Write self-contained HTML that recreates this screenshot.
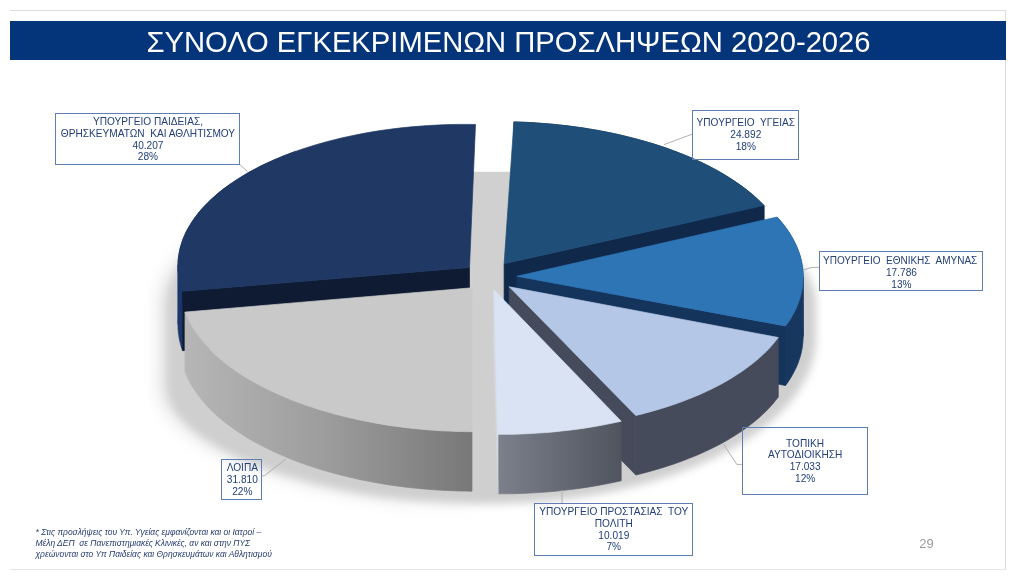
<!DOCTYPE html>
<html lang="el"><head><meta charset="utf-8"><title>ΣΥΝΟΛΟ ΕΓΚΕΚΡΙΜΕΝΩΝ ΠΡΟΣΛΗΨΕΩΝ 2020-2026</title>
<style>
html,body{margin:0;padding:0;background:#fff}
body{width:1013px;height:577px;position:relative;overflow:hidden;filter:blur(0.5px);font-family:"Liberation Sans",sans-serif}
#frame{position:absolute;left:10px;top:10px;width:995px;height:558px;border-top:1px solid #dcdcdc;border-right:1px solid #dcdcdc;border-bottom:1px solid #e4e4e4}
#title{position:absolute;left:10px;top:21px;width:996px;height:39px;background:#04347a;color:#fff;font-size:29.2px;line-height:39px;text-align:center;white-space:pre}
#title span{position:relative;left:0.5px;top:1.5px}
svg{position:absolute;left:0;top:0}
.lb{position:absolute;border:1px solid #5d7db3;box-sizing:border-box}
.lt{position:absolute;text-align:center;font-size:10.15px;line-height:12px;height:12px;color:#23407a;white-space:pre}
#fn{position:absolute;left:35.5px;top:527.2px;font-size:8.45px;line-height:10.9px;font-style:italic;color:#243b70;white-space:pre}
#pg{position:absolute;left:919.3px;top:537.3px;font-size:13px;line-height:14px;color:#9a9a9a}
</style></head><body>
<div id="frame"></div>
<div id="title"><span>ΣΥΝΟΛΟ ΕΓΚΕΚΡΙΜΕΝΩΝ ΠΡΟΣΛΗΨΕΩΝ 2020-2026</span></div>
<svg width="1013" height="577" viewBox="0 0 1013 577">
<defs>
<filter id="bl" x="-10%" y="-10%" width="120%" height="120%"><feGaussianBlur stdDeviation="4"/></filter>
<filter id="blL" x="-10%" y="-10%" width="120%" height="120%"><feGaussianBlur stdDeviation="9"/></filter>
<linearGradient id="gm" gradientUnits="userSpaceOnUse" x1="380" y1="0" x2="486" y2="0"><stop offset="0" stop-color="#fff"/><stop offset="1" stop-color="#000"/></linearGradient>
<mask id="mk" maskUnits="userSpaceOnUse" x="0" y="0" width="1013" height="577"><rect x="0" y="171.5" width="489" height="406" fill="url(#gm)"/></mask>
<clipPath id="cR"><rect x="0" y="171.5" width="1013" height="406"/></clipPath>
<linearGradient id="gL" gradientUnits="userSpaceOnUse" x1="185" y1="0" x2="472" y2="0"><stop offset="0" stop-color="#b6b6b6"/><stop offset="0.5" stop-color="#9c9c9c"/><stop offset="1" stop-color="#787878"/></linearGradient>
<linearGradient id="gP" gradientUnits="userSpaceOnUse" x1="498" y1="0" x2="622" y2="0"><stop offset="0" stop-color="#7b808a"/><stop offset="1" stop-color="#4f545e"/></linearGradient>
</defs>
<g clip-path="url(#cR)"><path d="M488 172A328 133 0 0 1 816 305L816 337A328 167 0 0 1 488 504C338 504 168 452 168 385L168 305A320 133 0 0 1 488 172Z" fill="#cfcfcf" filter="url(#bl)"/></g>
<g mask="url(#mk)" opacity="0.75"><path d="M488 172A328 133 0 0 1 816 305L816 337A328 167 0 0 1 488 504C330 504 161 450 161 385L161 305A327 133 0 0 1 488 172Z" fill="#cfcfcf" filter="url(#blL)"/></g>
<rect x="466" y="172" width="48" height="130" fill="#d0d0d0"/>
<path fill="#1b376a" stroke="#1b376a" stroke-width="0.7" d="M182.6 291.2L181.3 287.4L180.3 283.7L179.4 279.9L178.8 276.1L178.3 272.3L178 268.5L178 264.8L178 324.3L178 328L178.3 331.8L178.8 335.6L179.4 339.4L180.3 343.2L181.3 346.9L182.6 350.7Z"/>
<path fill="#1b376a" stroke="#1b376a" stroke-width="0.7" d="M178 264.8L178.1 261L178.5 257.2L179.1 253.4L179.8 249.6L180.8 245.9L182 242.1L183.3 238.4L184.9 234.7L186.6 231L188.6 227.4L190.8 223.8L193.1 220.2L195.7 216.6L198.4 213.1L201.3 209.6L204.4 206.2L207.7 202.8L211.2 199.4L214.9 196.1L218.7 192.8L222.7 189.6L226.9 186.5L231.3 183.4L235.8 180.4L240.5 177.4L245.3 174.5L250.3 171.6L255.4 168.9L260.7 166.1L266.2 163.5L271.8 160.9L277.5 158.5L283.4 156L289.4 153.7L295.5 151.4L295.5 210.9L289.4 213.2L283.4 215.5L277.5 218L271.8 220.4L266.2 223L260.7 225.6L255.4 228.4L250.3 231.1L245.3 234L240.5 236.9L235.8 239.9L231.3 242.9L226.9 246L222.7 249.1L218.7 252.3L214.9 255.6L211.2 258.9L207.7 262.3L204.4 265.7L201.3 269.1L198.4 272.6L195.7 276.1L193.1 279.7L190.8 283.3L188.6 286.9L186.6 290.5L184.9 294.2L183.3 297.9L182 301.6L180.8 305.4L179.8 309.1L179.1 312.9L178.5 316.7L178.1 320.5L178 324.3Z"/>
<path fill="#0f1a33" stroke="#0f1a33" stroke-width="0.7" d="M469.5 267.5L182.6 291.2L182.6 350.7L469.5 327Z"/>
<path fill="#1f3864" stroke="#1f3864" stroke-width="0.7" d="M469.5 267.5L182.6 291.2L181.3 287.4L180.3 283.7L179.4 279.9L178.8 276.1L178.3 272.3L178 268.5L178 264.8L178.1 261L178.5 257.2L179.1 253.4L179.8 249.6L180.8 245.9L182 242.1L183.3 238.4L184.9 234.7L186.6 231L188.6 227.4L190.8 223.8L193.1 220.2L195.7 216.6L198.4 213.1L201.3 209.6L204.4 206.2L207.7 202.8L211.2 199.4L214.9 196.1L218.7 192.8L222.7 189.6L226.9 186.5L231.3 183.4L235.8 180.4L240.5 177.4L245.3 174.5L250.3 171.6L255.4 168.9L260.7 166.1L266.2 163.5L271.8 160.9L277.5 158.5L283.4 156L289.4 153.7L295.5 151.4L301.7 149.3L308.1 147.2L314.5 145.2L321.1 143.3L327.8 141.4L334.6 139.7L341.4 138L348.4 136.5L355.4 135L362.6 133.6L369.8 132.3L377 131.1L384.4 130L391.8 129L399.2 128.1L406.7 127.3L414.2 126.6L421.8 126L429.4 125.5L437.1 125.1L444.7 124.7L452.4 124.5L460.1 124.4L467.8 124.4L475.5 124.5Z"/>
<path fill="#10284a" stroke="#10284a" stroke-width="0.7" d="M513.9 121.9L521.6 122.2L529.2 122.5L536.9 123L544.5 123.6L552 124.2L559.6 125L567.1 125.8L574.5 126.8L582 127.8L589.3 129L596.6 130.2L603.8 131.6L611 133L618.1 134.5L625.1 136.2L632 137.9L638.8 139.7L645.5 141.6L652.1 143.5L658.7 145.6L665.1 147.7L671.4 150L677.5 152.3L683.6 154.7L689.5 157.1L695.3 159.7L701 162.3L706.5 164.9L711.9 167.7L717.1 170.5L722.2 173.4L727.1 176.4L731.9 179.4L736.5 182.5L740.9 185.6L745.2 188.8L749.3 192L753.3 195.3L757 198.7L760.6 202.1L764 205.5L764 265L760.6 261.6L757 258.2L753.3 254.8L749.3 251.5L745.2 248.3L740.9 245.1L736.5 242L731.9 238.9L727.1 235.9L722.2 232.9L717.1 230L711.9 227.2L706.5 224.4L701 221.8L695.3 219.2L689.5 216.6L683.6 214.2L677.5 211.8L671.4 209.5L665.1 207.2L658.7 205.1L652.1 203L645.5 201.1L638.8 199.2L632 197.4L625.1 195.7L618.1 194L611 192.5L603.8 191.1L596.6 189.7L589.3 188.5L582 187.3L574.5 186.3L567.1 185.3L559.6 184.5L552 183.7L544.5 183.1L536.9 182.5L529.2 182L521.6 181.7L513.9 181.4Z"/>
<path fill="#10284a" stroke="#10284a" stroke-width="0.7" d="M504.1 263.8L764 205.5L764 265L504.1 323.3Z"/>
<path fill="#1f4e79" stroke="#1f4e79" stroke-width="0.7" d="M504.1 263.8L513.9 121.9L521.6 122.2L529.2 122.5L536.9 123L544.5 123.6L552 124.2L559.6 125L567.1 125.8L574.5 126.8L582 127.8L589.3 129L596.6 130.2L603.8 131.6L611 133L618.1 134.5L625.1 136.2L632 137.9L638.8 139.7L645.5 141.6L652.1 143.5L658.7 145.6L665.1 147.7L671.4 150L677.5 152.3L683.6 154.7L689.5 157.1L695.3 159.7L701 162.3L706.5 164.9L711.9 167.7L717.1 170.5L722.2 173.4L727.1 176.4L731.9 179.4L736.5 182.5L740.9 185.6L745.2 188.8L749.3 192L753.3 195.3L757 198.7L760.6 202.1L764 205.5Z"/>
<path fill="#17375e" stroke="#17375e" stroke-width="0.7" d="M777 217L780.1 220.6L783.1 224.1L785.8 227.8L788.4 231.4L790.7 235.1L792.9 238.9L794.8 242.6L796.6 246.4L798.1 250.2L799.5 254L800.6 257.8L801.5 261.6L802.2 265.5L802.8 269.3L803.1 273.2L803.2 277L803.2 336.5L803.1 332.7L802.8 328.8L802.2 325L801.5 321.1L800.6 317.3L799.5 313.5L798.1 309.7L796.6 305.9L794.8 302.1L792.9 298.4L790.7 294.6L788.4 290.9L785.8 287.3L783.1 283.6L780.1 280.1L777 276.5Z"/>
<path fill="#17375e" stroke="#17375e" stroke-width="0.7" d="M803.2 277L803 280.9L802.7 284.7L802.2 288.6L801.4 292.4L800.5 296.2L799.3 300L798 303.8L796.4 307.6L794.6 311.3L792.6 315L790.5 318.7L788.1 322.4L785.5 326L785.5 385.5L788.1 381.9L790.5 378.2L792.6 374.5L794.6 370.8L796.4 367.1L798 363.3L799.3 359.5L800.5 355.7L801.4 351.9L802.2 348.1L802.7 344.2L803 340.4L803.2 336.5Z"/>
<path fill="#15345b" stroke="#15345b" stroke-width="0.7" d="M516.8 276.3L785.5 326L785.5 385.5L516.8 335.8Z"/>
<path fill="#2e75b6" stroke="#2e75b6" stroke-width="0.7" d="M516.8 276.3L777 217L780.1 220.6L783.1 224.1L785.8 227.8L788.4 231.4L790.7 235.1L792.9 238.9L794.8 242.6L796.6 246.4L798.1 250.2L799.5 254L800.6 257.8L801.5 261.6L802.2 265.5L802.8 269.3L803.1 273.2L803.2 277L803 280.9L802.7 284.7L802.2 288.6L801.4 292.4L800.5 296.2L799.3 300L798 303.8L796.4 307.6L794.6 311.3L792.6 315L790.5 318.7L788.1 322.4L785.5 326Z"/>
<path fill="url(#gL)" stroke="url(#gL)" stroke-width="0.7" d="M472 431.7L464.4 431.6L456.8 431.4L449.1 431.1L441.6 430.8L434 430.3L426.4 429.7L418.9 429L411.4 428.3L404 427.4L396.6 426.4L389.2 425.4L381.9 424.2L374.7 422.9L367.5 421.6L360.4 420.2L353.4 418.6L346.5 417L339.6 415.3L332.9 413.5L326.2 411.6L319.6 409.7L313.2 407.6L306.8 405.5L300.6 403.3L294.4 401L288.4 398.6L282.6 396.1L276.8 393.6L271.2 391L265.7 388.3L260.4 385.6L255.2 382.8L250.1 379.9L245.2 377L240.5 374L235.9 370.9L231.5 367.8L227.3 364.7L223.2 361.4L219.3 358.2L215.5 354.9L212 351.5L208.6 348.1L205.4 344.6L202.4 341.1L199.5 337.6L196.9 334L194.4 330.5L192.1 326.8L190.1 323.2L188.2 319.5L186.5 315.8L185 312.1L185 371.6L186.5 375.3L188.2 379L190.1 382.7L192.1 386.3L194.4 390L196.9 393.5L199.5 397.1L202.4 400.6L205.4 404.1L208.6 407.6L212 411L215.5 414.4L219.3 417.7L223.2 420.9L227.3 424.2L231.5 427.3L235.9 430.4L240.5 433.5L245.2 436.5L250.1 439.4L255.2 442.3L260.4 445.1L265.7 447.8L271.2 450.5L276.8 453.1L282.6 455.6L288.4 458.1L294.4 460.5L300.6 462.8L306.8 465L313.2 467.1L319.6 469.2L326.2 471.1L332.9 473L339.6 474.8L346.5 476.5L353.4 478.1L360.4 479.7L367.5 481.1L374.7 482.4L381.9 483.7L389.2 484.9L396.6 485.9L404 486.9L411.4 487.8L418.9 488.5L426.4 489.2L434 489.8L441.6 490.3L449.1 490.6L456.8 490.9L464.4 491.1L472 491.2Z"/>
<path fill="#c9c9c9" stroke="#c9c9c9" stroke-width="0.7" d="M472 287.8L472 431.7L464.4 431.6L456.8 431.4L449.1 431.1L441.6 430.8L434 430.3L426.4 429.7L418.9 429L411.4 428.3L404 427.4L396.6 426.4L389.2 425.4L381.9 424.2L374.7 422.9L367.5 421.6L360.4 420.2L353.4 418.6L346.5 417L339.6 415.3L332.9 413.5L326.2 411.6L319.6 409.7L313.2 407.6L306.8 405.5L300.6 403.3L294.4 401L288.4 398.6L282.6 396.1L276.8 393.6L271.2 391L265.7 388.3L260.4 385.6L255.2 382.8L250.1 379.9L245.2 377L240.5 374L235.9 370.9L231.5 367.8L227.3 364.7L223.2 361.4L219.3 358.2L215.5 354.9L212 351.5L208.6 348.1L205.4 344.6L202.4 341.1L199.5 337.6L196.9 334L194.4 330.5L192.1 326.8L190.1 323.2L188.2 319.5L186.5 315.8L185 312.1Z"/>
<path fill="#464b5b" stroke="#464b5b" stroke-width="0.7" d="M778.3 337.5L775.5 341.1L772.5 344.7L769.4 348.2L766 351.7L762.4 355.1L758.7 358.5L754.8 361.8L750.6 365.1L746.3 368.3L741.9 371.4L737.2 374.5L732.4 377.5L727.5 380.5L722.3 383.4L717 386.2L711.6 388.9L706 391.6L700.3 394.2L694.4 396.7L688.4 399.1L682.2 401.5L675.9 403.8L669.5 405.9L663 408L656.4 410L649.6 411.9L642.8 413.8L635.8 415.5L635.8 475L642.8 473.3L649.6 471.4L656.4 469.5L663 467.5L669.5 465.4L675.9 463.3L682.2 461L688.4 458.6L694.4 456.2L700.3 453.7L706 451.1L711.6 448.4L717 445.7L722.3 442.9L727.5 440L732.4 437L737.2 434L741.9 430.9L746.3 427.8L750.6 424.6L754.8 421.3L758.7 418L762.4 414.6L766 411.2L769.4 407.7L772.5 404.2L775.5 400.6L778.3 397Z"/>
<path fill="#464b5b" stroke="#464b5b" stroke-width="0.7" d="M509.2 286.8L635.8 415.5L635.8 475L509.2 346.3Z"/>
<path fill="#b4c7e7" stroke="#b4c7e7" stroke-width="0.7" d="M509.2 286.8L778.3 337.5L775.5 341.1L772.5 344.7L769.4 348.2L766 351.7L762.4 355.1L758.7 358.5L754.8 361.8L750.6 365.1L746.3 368.3L741.9 371.4L737.2 374.5L732.4 377.5L727.5 380.5L722.3 383.4L717 386.2L711.6 388.9L706 391.6L700.3 394.2L694.4 396.7L688.4 399.1L682.2 401.5L675.9 403.8L669.5 405.9L663 408L656.4 410L649.6 411.9L642.8 413.8L635.8 415.5Z"/>
<path fill="url(#gP)" stroke="url(#gP)" stroke-width="0.7" d="M621.2 421.2L614 422.8L606.6 424.3L599.2 425.7L591.8 427L584.2 428.2L576.6 429.3L568.9 430.2L561.2 431.1L553.4 431.9L545.6 432.6L537.7 433.1L529.8 433.6L521.9 433.9L513.9 434.2L506 434.3L498 434.3L498 493.8L506 493.8L513.9 493.7L521.9 493.4L529.8 493.1L537.7 492.6L545.6 492.1L553.4 491.4L561.2 490.6L568.9 489.7L576.6 488.8L584.2 487.7L591.8 486.5L599.2 485.2L606.6 483.8L614 482.3L621.2 480.7Z"/>
<path fill="#d6d9e0" stroke="#d6d9e0" stroke-width="0.7" d="M493.9 289.8L498 434.3L498 493.8L493.9 349.3Z"/>
<path fill="#dae3f3" stroke="#dae3f3" stroke-width="0.7" d="M493.9 289.8L621.2 421.2L614 422.8L606.6 424.3L599.2 425.7L591.8 427L584.2 428.2L576.6 429.3L568.9 430.2L561.2 431.1L553.4 431.9L545.6 432.6L537.7 433.1L529.8 433.6L521.9 433.9L513.9 434.2L506 434.3L498 434.3Z"/>
<g fill="none" stroke="#b0b0b0" stroke-width="1">
<path d="M239.8 164.5L247.7 171.7"/>
<path d="M664 144.6L692 134.2"/>
<path d="M803 270L812 267.4L820 267.4"/>
<path d="M723.3 443.8L736.8 464.4L742 464.4"/>
<path d="M562 490L562 503"/>
<path d="M262 475.8L264.3 475.8L286.2 458.8"/>
</g>
</svg>
<div class="lb" style="left:54.7px;top:112.5px;width:185.6px;height:52.5px"></div>
<div class="lt" style="left:35.2px;top:115.9px;width:225.6px">ΥΠΟΥΡΓΕΙΟ ΠΑΙΔΕΙΑΣ,</div>
<div class="lt" style="left:35.2px;top:127.7px;width:225.6px">ΘΡΗΣΚΕΥΜΑΤΩΝ  ΚΑΙ ΑΘΛΗΤΙΣΜΟΥ</div>
<div class="lt" style="left:35.2px;top:139.5px;width:225.6px">40.207</div>
<div class="lt" style="left:35.2px;top:151.3px;width:225.6px">28%</div>
<div class="lb" style="left:691.6px;top:109.9px;width:107.4px;height:50.2px"></div>
<div class="lt" style="left:672.1px;top:117.4px;width:147.4px">ΥΠΟΥΡΓΕΙΟ  ΥΓΕΙΑΣ</div>
<div class="lt" style="left:672.1px;top:129.2px;width:147.4px">24.892</div>
<div class="lt" style="left:672.1px;top:141px;width:147.4px">18%</div>
<div class="lb" style="left:819.2px;top:251px;width:163.5px;height:39.5px"></div>
<div class="lt" style="left:799.7px;top:254.9px;width:203.5px"><span style="font-size:10px;position:relative;left:-1.3px">ΥΠΟΥΡΓΕΙΟ  ΕΘΝΙΚΗΣ  ΑΜΥΝΑΣ</span></div>
<div class="lt" style="left:799.7px;top:266.7px;width:203.5px">17.786</div>
<div class="lt" style="left:799.7px;top:278.5px;width:203.5px">13%</div>
<div class="lb" style="left:741.6px;top:426.5px;width:126.1px;height:68.2px"></div>
<div class="lt" style="left:722.1px;top:437.6px;width:166.1px">ΤΟΠΙΚΗ</div>
<div class="lt" style="left:722.1px;top:449.4px;width:166.1px">ΑΥΤΟΔΙΟΙΚΗΣΗ</div>
<div class="lt" style="left:722.1px;top:461.2px;width:166.1px">17.033</div>
<div class="lt" style="left:722.1px;top:473px;width:166.1px">12%</div>
<div class="lb" style="left:533.8px;top:502.5px;width:159px;height:53.2px"></div>
<div class="lt" style="left:514.3px;top:505.9px;width:199px">ΥΠΟΥΡΓΕΙΟ ΠΡΟΣΤΑΣΙΑΣ  ΤΟΥ</div>
<div class="lt" style="left:514.3px;top:517.7px;width:199px">ΠΟΛΙΤΗ</div>
<div class="lt" style="left:514.3px;top:529.5px;width:199px">10.019</div>
<div class="lt" style="left:514.3px;top:541.3px;width:199px">7%</div>
<div class="lb" style="left:221.3px;top:459.2px;width:41.1px;height:41px"></div>
<div class="lt" style="left:201.8px;top:462.4px;width:81.1px">ΛΟΙΠΑ</div>
<div class="lt" style="left:201.8px;top:474.2px;width:81.1px">31.810</div>
<div class="lt" style="left:201.8px;top:486px;width:81.1px">22%</div>
<div id="fn">* Στις προσλήψεις του Υπ. Υγείας εμφανίζονται και οι Ιατροί –
Μέλη ΔΕΠ  σε Πανεπιστημιακές Κλινικές, αν και στην ΠΥΣ
χρεώνονται στο Υπ Παιδείας και Θρησκευμάτων και Αθλητισμού</div>
<div id="pg">29</div>
</body></html>
